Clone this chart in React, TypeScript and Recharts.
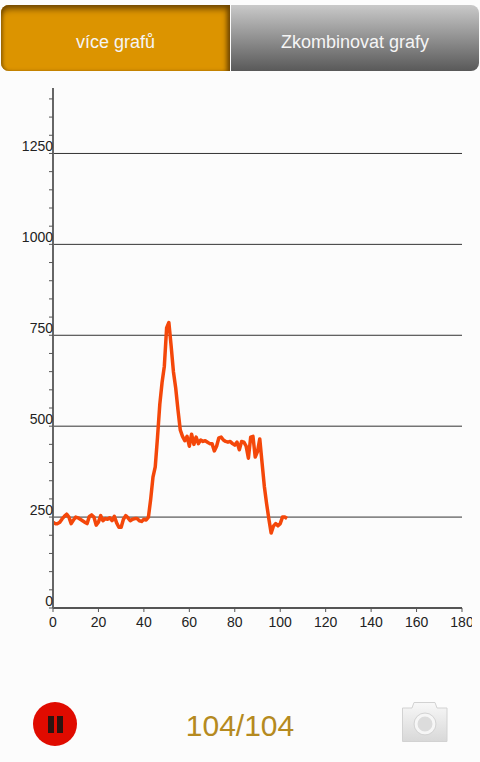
import { Line, LineChart, ReferenceLine, XAxis, YAxis } from "recharts";

// one sample per index
const values = [
  236, 232, 232, 236, 245, 252, 258, 250, 232, 242,
  250, 248, 244, 240, 236, 232, 252, 256, 250, 228,
  236, 254, 240, 246, 244, 248, 240, 252, 234, 222,
  222, 244, 254, 248, 240, 244, 246, 246, 240, 238,
  244, 242, 250, 300, 360, 388, 470, 560, 620, 665,
  770, 785, 720, 650, 605, 545, 490, 472, 460, 472,
  445, 478, 450, 470, 452, 462, 458, 460, 456, 452,
  452, 432, 445, 468, 470, 462, 458, 456, 458, 452,
  448, 456, 435, 458, 456, 445, 412, 470, 472, 415,
  430, 465, 400, 335, 287, 245, 206, 225, 232, 226,
  232, 250, 250, 246,
];
const xTicks = [0, 20, 40, 60, 80, 100, 120, 140, 160, 180];
const yTicks = [
  0, 50, 100, 150, 200, 250, 300, 350, 400, 450, 500, 550, 600, 650, 700,
  750, 800, 850, 900, 950, 1000, 1050, 1100, 1150, 1200, 1250, 1300, 1350, 1400,
];
const gridValues = [250, 500, 750, 1000, 1250];
const yLabelled = [0, 250, 500, 750, 1000, 1250];
const tabLabels = ["více grafů", "Zkombinovat grafy"];
const counter = "104/104";

const data = values.map((v, i) => ({ x: i, v }));
const font = '"Liberation Sans", Arial, sans-serif';

function YTick({ x, y, payload }: { x?: number; y?: number; payload?: { value: number } }) {
  if (!payload || !yLabelled.includes(payload.value)) return null;
  return (
    <text x={(x ?? 0) + 4} y={(y ?? 0) - 2} textAnchor="end" fontSize={14} fill="#222" fontFamily={font}>
      {payload.value}
    </text>
  );
}

function Tabs() {
  const base = {
    position: "absolute" as const,
    top: 5,
    height: 66,
    lineHeight: "74px",
    textAlign: "center" as const,
    color: "#f5f5f5",
    fontSize: 18,
    fontFamily: font,
    boxSizing: "border-box" as const,
  };
  return (
    <>
      <div
        style={{
          ...base,
          left: 1,
          width: 229,
          background: "#dc9400",
          borderRadius: "8px 0 0 8px",
          boxShadow: "inset 0 6px 6px -2px #6e4600, inset -5px 0 5px -2px #6e4600, inset 3px 0 3px -1px #a87000",
        }}
      >
        {tabLabels[0]}
      </div>
      <div
        style={{
          ...base,
          left: 231,
          width: 248,
          background: "linear-gradient(#c9c9c9, #595959)",
          borderRadius: "0 8px 8px 0",
        }}
      >
        {tabLabels[1]}
      </div>
    </>
  );
}

function Footer() {
  return (
    <>
      <div style={{ position: "absolute", left: 33, top: 702, width: 44, height: 44, borderRadius: 22, background: "#e00b00" }} />
      <div style={{ position: "absolute", left: 48, top: 716, width: 6, height: 17, background: "#2c1410" }} />
      <div style={{ position: "absolute", left: 57, top: 716, width: 6, height: 17, background: "#2c1410" }} />
      <div
        style={{
          position: "absolute",
          left: 0,
          width: 480,
          top: 708,
          textAlign: "center",
          fontSize: 30,
          lineHeight: "36px",
          color: "#b58a20",
          fontFamily: font,
        }}
      >
        {counter}
      </div>
      <svg style={{ position: "absolute", left: 400, top: 700 }} width={50} height={44}>
        <defs>
          <linearGradient id="cam" x1="0" y1="0" x2="0" y2="1">
            <stop offset="0" stopColor="#f8f8f8" />
            <stop offset="1" stopColor="#d8d8d8" />
          </linearGradient>
        </defs>
        <path
          d="M2.5 8 L12 8 L14 2.5 L35 2.5 L37 8 L47 8 L47 41.5 L2.5 41.5 Z"
          fill="url(#cam)"
          stroke="#d2d2d2"
          strokeLinejoin="round"
        />
        <circle cx={25} cy={24} r={9} fill="#dcdcdc" stroke="#f6f6f6" strokeWidth={3} />
        <circle cx={25} cy={24} r={11} fill="none" stroke="#d4d4d4" strokeWidth={1} />
      </svg>
    </>
  );
}

export default function App() {
  return (
    <div style={{ position: "absolute", left: 0, top: 0, width: 480, height: 762, background: "#fcfcfc", overflow: "hidden" }}>
      <Tabs />
      {/* the last x label is cut off at the plot view's edge, like the original */}
      <div style={{ position: "absolute", left: 0, top: 0, width: 472, height: 762, overflow: "hidden" }}>
        <LineChart width={472} height={762} data={data} margin={{ top: 88, right: 10, bottom: 124, left: 0 }}>
          <XAxis
            type="number"
            dataKey="x"
            domain={[0, 180]}
            ticks={xTicks}
            interval={0}
            height={30}
            tickSize={4}
            tickMargin={5}
            tick={{ fontSize: 14, fill: "#222", fontFamily: font }}
            stroke="#555"
            axisLine={{ stroke: "#555", strokeWidth: 2 }}
            tickLine={{ stroke: "#555" }}
          />
          <YAxis
            type="number"
            domain={[0, 1430]}
            ticks={yTicks}
            interval={0}
            width={53}
            tickSize={4}
            tickMargin={0}
            tick={<YTick />}
            axisLine={{ stroke: "#666", strokeWidth: 2 }}
            tickLine={{ stroke: "#555" }}
          />
          {gridValues.map((g) => (
            <ReferenceLine key={g} y={g} stroke="#333" strokeWidth={1} />
          ))}
          <Line
            dataKey="v"
            type="linear"
            stroke="#f4470a"
            strokeWidth={3.5}
            dot={false}
            strokeLinejoin="round"
            isAnimationActive={false}
          />
        </LineChart>
      </div>
      <Footer />
    </div>
  );
}
